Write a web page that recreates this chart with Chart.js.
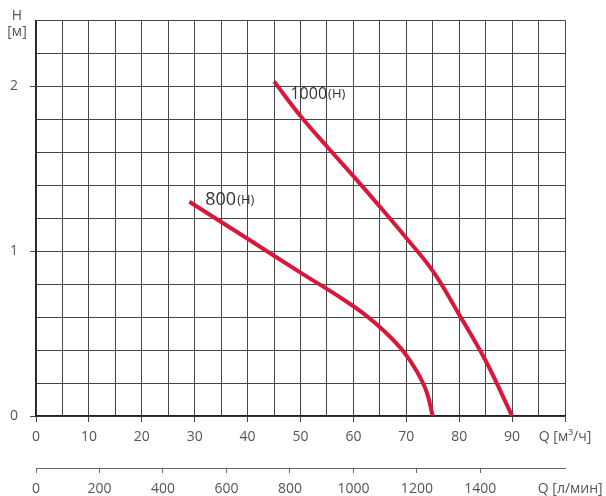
<!DOCTYPE html>
<html>
<head>
<meta charset="utf-8">
<script src="https://cdn.jsdelivr.net/npm/chart.js@4"></script>
<style>
  html, body { margin: 0; padding: 0; background: #fff; }
  #wrap { width: 606px; height: 496px; position: relative; }
</style>
</head>
<body>
<div id="wrap"><canvas id="chart"></canvas></div>
<script>
// ==== Data ====
const flow800 = [29, 40, 50, 57, 62, 66, 69.5, 72, 73.8, 75];
const head800 = [1.30, 1.075, 0.87, 0.73, 0.62, 0.51, 0.39, 0.27, 0.15, 0];

const flow1000 = [45, 50, 55, 60, 65, 70, 75, 80, 85, 90];
const head1000 = [2.03, 1.82, 1.635, 1.455, 1.27, 1.08, 0.88, 0.615, 0.335, 0];

const flowTicks = [0, 10, 20, 30, 40, 50, 60, 70, 80, 90];
const litreTicks = [0, 200, 400, 600, 800, 1000, 1200, 1400];
const headTicks = [0, 1, 2];

const flowUnit = "Q [м³/ч]";
const litreUnit = "Q [л/мин]";
const headUnit = ["H", "[м]"];
const curveNames = [["800", "(H)"], ["1000", "(H)"]];

// ==== Helpers ====
const RED = "#d8173b";
const GRID = "#464646";
const TEXT = "#555";
const FONT = "'Open Sans', 'DejaVu Sans', sans-serif";
const isWhole = (v, step) => Math.abs(v / step - Math.round(v / step)) < 1e-6;
const toPoints = (xs, ys) => xs.map((x, i) => ({ x, y: ys[i] }));

// ==== Extra text (curve names, axis units) ====
const labelsPlugin = {
  id: "labels",
  afterDraw(chart) {
    const { ctx, scales } = chart;
    const x = scales.x, y = scales.y, x2 = scales.x2;
    ctx.save();
    ctx.fillStyle = "#333";
    ctx.textBaseline = "middle";
    ctx.textAlign = "left";

    // curve names placed next to the curves
    const spots = [[32, 1.31, 18], [48.1, 1.95, 16]];
    curveNames.forEach((name, i) => {
      const [vx, vy, size] = spots[i];
      let px = x.getPixelForValue(vx);
      const py = y.getPixelForValue(vy);
      ctx.font = size + "px " + FONT;
      ctx.fillText(name[0], px, py);
      px += ctx.measureText(name[0]).width + 1;
      ctx.font = "13px " + FONT;
      ctx.fillText(name[1], px, py);
    });

    // H [м] above the y axis
    ctx.fillStyle = TEXT;
    ctx.textAlign = "center";
    ctx.font = "14px " + FONT;
    ctx.fillText(headUnit[0], 17, 16);
    ctx.fillText(headUnit[1], 17, 32);

    // unit of the litre axis, a bit right of its last tick
    ctx.textAlign = "left";
    ctx.fillText(litreUnit, x2.getPixelForValue(1600) - 6, 489);
    ctx.restore();
  }
};

// ==== Chart ====
new Chart(document.getElementById("chart"), {
  type: "line",
  data: {
    datasets: [
      { data: toPoints(flow800, head800) },
      { data: toPoints(flow1000, head1000) }
    ]
  },
  options: {
    responsive: true,
    maintainAspectRatio: false,
    animation: false,
    layout: { padding: { top: 20, right: 41, left: 0, bottom: 0 } },
    elements: {
      point: { radius: 0 },
      line: { borderColor: RED, borderWidth: 4, tension: 0.4, fill: false }
    },
    plugins: { legend: { display: false }, tooltip: { enabled: false } },
    scales: {
      x: {
        type: "linear",
        position: "bottom",
        min: 0,
        max: 100,
        afterFit: (s) => { s.height = 52; },
        grid: {
          color: GRID,
          tickLength: 6,
          tickColor: (c) => (isWhole(c.tick.value, 10) ? GRID : "rgba(0,0,0,0)")
        },
        border: { color: "#222", width: 1.5 },
        ticks: {
          stepSize: 5,
          autoSkip: false,
          maxRotation: 0,
          minRotation: 0,
          padding: 7,
          color: TEXT,
          font: { family: FONT, size: 14 },
          callback: (v) => {
            if (v === 100) return flowUnit;
            return flowTicks.includes(v) ? String(v) : "";
          }
        }
      },
      x2: {
        type: "linear",
        position: "bottom",
        min: 0,
        max: 100 * 1000 / 60,
        afterFit: (s) => { s.height = 28; },
        afterBuildTicks: (s) => { s.ticks = s.ticks.filter((t) => isWhole(t.value, 200)); },
        grid: { drawOnChartArea: false, color: "#666", tickLength: 5 },
        border: { color: "#666", width: 1 },
        ticks: {
          stepSize: 200,
          autoSkip: false,
          maxRotation: 0,
          minRotation: 0,
          padding: 8,
          color: TEXT,
          font: { family: FONT, size: 14 },
          callback: (v) => (litreTicks.includes(v) ? String(v) : "")
        }
      },
      y: {
        type: "linear",
        min: 0,
        max: 2.4,
        afterFit: (s) => { s.width = 36; },
        grid: {
          color: GRID,
          tickLength: 6,
          tickColor: (c) => (isWhole(c.tick.value, 1) ? GRID : "rgba(0,0,0,0)")
        },
        border: { color: "#222", width: 1.5 },
        ticks: {
          stepSize: 0.2,
          autoSkip: false,
          padding: 12,
          color: TEXT,
          font: { family: FONT, size: 14 },
          callback: (v) => {
            const r = Math.round(v);
            return isWhole(v, 1) && headTicks.includes(r) ? String(r) : "";
          }
        }
      }
    }
  },
  plugins: [labelsPlugin]
});
</script>
</body>
</html>
